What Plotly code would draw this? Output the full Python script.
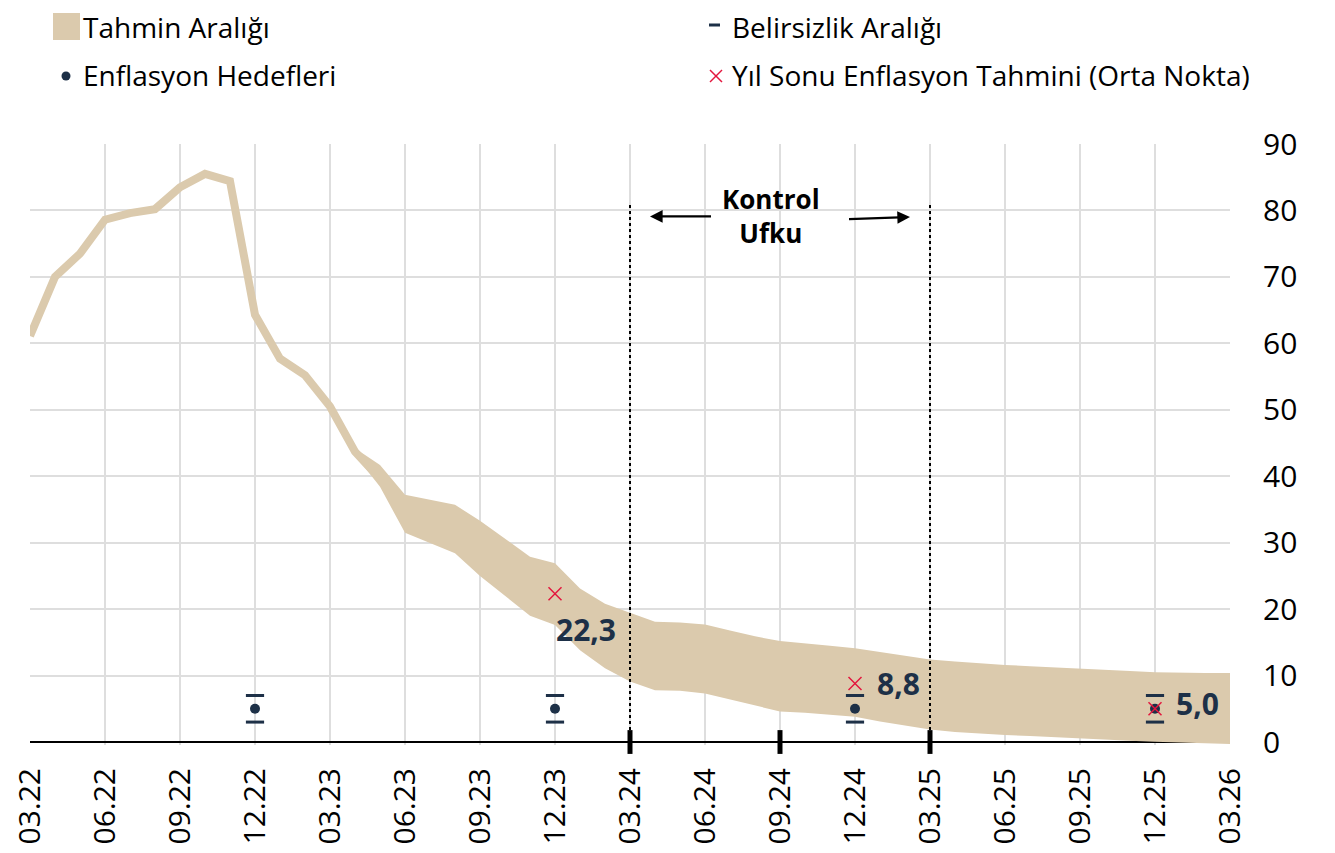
import plotly.graph_objects as go

# ---------------- data ----------------
months = []
for yr in range(22, 27):
    for m in range(1, 13):
        if (yr == 22 and m < 3) or (yr == 26 and m > 3):
            continue
        months.append(f"{m:02d}.{yr}")

quarter_ticks = [mo for mo in months if int(mo[:2]) in (3, 6, 9, 12)]

# Realised annual CPI inflation (03.22 - 05.23)
hist_months = months[0:15]
hist_vals = [61.1, 70.0, 73.5, 78.6, 79.6, 80.2, 83.5, 85.5, 84.4, 64.3, 57.7, 55.2, 50.5, 43.7, 39.6]

# Forecast band (04.23 - 03.26)
band_months = months[13:]
band_upper = [44.2, 41.7, 37.2, 36.5, 35.7, 33.3, 30.6, 27.9, 26.9,
              23.1, 20.8, 19.4, 18.1, 18.0, 17.7, 16.8, 15.9, 15.2, 14.9, 14.5, 14.1,
              13.5, 12.9, 12.4, 12.1, 11.8, 11.6, 11.4, 11.25, 11.1, 10.9, 10.7, 10.5,
              10.4, 10.4, 10.4]
band_lower = [43.2, 38.4, 31.5, 30.0, 28.4, 25.0, 22.0, 19.0, 17.6,
              13.8, 11.1, 9.1, 7.8, 7.7, 7.3, 6.4, 5.5, 4.6, 4.4, 4.1, 3.8,
              3.1, 2.5, 1.9, 1.5, 1.25, 1.05, 0.9, 0.7, 0.55, 0.4, 0.2, 0.05,
              -0.1, -0.2, -0.3]

# Inflation targets and uncertainty band
target_months = ["12.22", "12.23", "12.24", "12.25"]
target_vals = [5, 5, 5, 5]
uncert_low = [3, 3, 3, 3]
uncert_high = [7, 7, 7, 7]

# Year-end forecast mid points
fc_months = ["12.23", "12.24", "12.25"]
fc_vals = [22.3, 8.8, 5.0]

# Control horizon and milestone ticks
horizon = ["03.24", "03.25"]
milestone_ticks = ["03.24", "09.24", "03.25"]

# ---------------- styles ----------------
BEIGE = "#dbcaad"
NAVY = "#1d3047"
RED = "#e3173e"
GRID = "#dedede"
FONT = "Open Sans"

label_offsets = [(-1, -36), (20, 0), (19, 5)]  # xshift, yshift for labels

fig = go.Figure()

fig.add_trace(go.Scatter(x=hist_months, y=hist_vals, mode="lines",
                         line=dict(color=BEIGE, width=8), showlegend=False,
                         hoverinfo="skip"))
fig.add_trace(go.Scatter(x=band_months, y=band_lower, mode="lines",
                         line=dict(color=BEIGE, width=0), showlegend=False,
                         hoverinfo="skip"))
fig.add_trace(go.Scatter(x=band_months, y=band_upper, mode="lines",
                         line=dict(color=BEIGE, width=0), fill="tonexty",
                         fillcolor=BEIGE, showlegend=False, hoverinfo="skip"))

# uncertainty caps
fig.add_trace(go.Scatter(x=target_months + target_months, y=uncert_low + uncert_high,
                         mode="markers",
                         marker=dict(symbol="line-ew", size=13,
                                     line=dict(color=NAVY, width=3)),
                         showlegend=False, hoverinfo="skip"))
# targets
fig.add_trace(go.Scatter(x=target_months, y=target_vals, mode="markers",
                         marker=dict(symbol="circle", size=10, color=NAVY),
                         showlegend=False, hoverinfo="skip"))
# forecast mid points
fig.add_trace(go.Scatter(x=fc_months, y=fc_vals, mode="markers",
                         marker=dict(symbol="x-thin", size=13,
                                     line=dict(color=RED, width=1.5)),
                         showlegend=False, hoverinfo="skip"))
# milestone tick marks
fig.add_trace(go.Scatter(x=milestone_ticks, y=[0] * len(milestone_ticks), mode="markers",
                         marker=dict(symbol="line-ns", size=17,
                                     line=dict(color="black", width=5)),
                         cliponaxis=False, showlegend=False, hoverinfo="skip"))

annotations = []
for m, v, (dx, dy) in zip(fc_months, fc_vals, label_offsets):
    annotations.append(dict(x=months.index(m), y=v, xref="x", yref="y",
                            text=f"{v:.1f}".replace(".", ","), showarrow=False,
                            xanchor="left", yanchor="middle", xshift=dx, yshift=dy,
                            font=dict(family=FONT, size=30, color=NAVY, weight="bold")))

# control horizon
h0, h1 = months.index(horizon[0]), months.index(horizon[1])
shapes = []
for h in (h0, h1):
    shapes.append(dict(type="line", xref="x", yref="y", x0=h, x1=h, y0=0, y1=81,
                       line=dict(color="black", width=2, dash="dot")))

annotations.append(dict(x=(h0 + h1) / 2 - 0.35, y=79.2, xref="x", yref="y",
                        text="Kontrol<br>Ufku", showarrow=False,
                        font=dict(family=FONT, size=26, color="black", weight="bold")))
annotations.append(dict(x=h0 + 0.8, y=79.1, ax=h0 + 3.3, ay=79.1, xref="x", yref="y",
                        axref="x", ayref="y", text="", showarrow=True, arrowhead=2,
                        arrowsize=1.1, arrowwidth=2.3, arrowcolor="black"))
annotations.append(dict(x=h1 - 0.8, y=79.0, ax=h1 - 3.3, ay=78.7, xref="x", yref="y",
                        axref="x", ayref="y", text="", showarrow=True, arrowhead=2,
                        arrowsize=1.1, arrowwidth=2.3, arrowcolor="black"))

# ---------------- manual legend ----------------
L, R, T, B = 22, 1222, 136, 737


def pxx(p):
    return (p - L) / (R - L)


def pyy(p):
    return (B - p) / (B - T)


# (text, left px, top px)
legend_items = [
    ("Tahmin Aralığı", 75, 0),
    ("Belirsizlik Aralığı", 724, 0),
    ("Enflasyon Hedefleri", 75, 48),
    ("Yıl Sonu Enflasyon Tahmini (Orta Nokta)", 724, 48),
]
for txt, x0, y0 in legend_items:
    annotations.append(dict(x=pxx(x0), y=pyy(y0), xref="paper", yref="paper",
                            text=txt, showarrow=False, xanchor="left", yanchor="top",
                            borderpad=0, borderwidth=0,
                            font=dict(family=FONT, size=28, color="black")))

shapes.append(dict(type="rect", xref="paper", yref="paper",
                   x0=pxx(45), x1=pxx(72), y0=pyy(32), y1=pyy(5),
                   fillcolor=BEIGE, line=dict(width=0)))
shapes.append(dict(type="line", xref="paper", yref="paper",
                   x0=pxx(701), x1=pxx(712), y0=pyy(17), y1=pyy(17),
                   line=dict(color=NAVY, width=3)))
shapes.append(dict(type="circle", xref="paper", yref="paper",
                   x0=pxx(53.5), x1=pxx(62.5), y0=pyy(72.5), y1=pyy(63.5),
                   fillcolor=NAVY, line=dict(width=0)))
for a, b in ((62, 74), (74, 62)):
    shapes.append(dict(type="line", xref="paper", yref="paper",
                       x0=pxx(702), x1=pxx(714), y0=pyy(a), y1=pyy(b),
                       line=dict(color=RED, width=1.5)))

fig.update_layout(
    width=1335, height=853,
    margin=dict(l=L, r=1335 - R, t=T, b=853 - B, autoexpand=False),
    paper_bgcolor="white", plot_bgcolor="white",
    font=dict(family=FONT, color="black"),
    showlegend=False,
    shapes=shapes, annotations=annotations,
    xaxis=dict(type="category", categoryorder="array", categoryarray=months,
               range=[0, len(months) - 1], tickmode="array",
               tickvals=quarter_ticks, ticktext=quarter_ticks, tickangle=-90,
               tickfont=dict(size=30, color="black"), showgrid=True,
               gridcolor=GRID, gridwidth=1.5, showline=False, ticks="",
               ticklabelstandoff=16, zeroline=False, automargin=False),
    yaxis=dict(side="right", range=[-0.45, 90], tickmode="array",
               tickvals=list(range(0, 91, 10)), tickfont=dict(size=30, color="black"),
               showgrid=True, gridcolor=GRID, gridwidth=1.5, zeroline=True,
               zerolinecolor="black", zerolinewidth=1.5, showline=False, ticks="",
               ticklabelstandoff=32, automargin=False),
)

fig.write_html("out.html")
